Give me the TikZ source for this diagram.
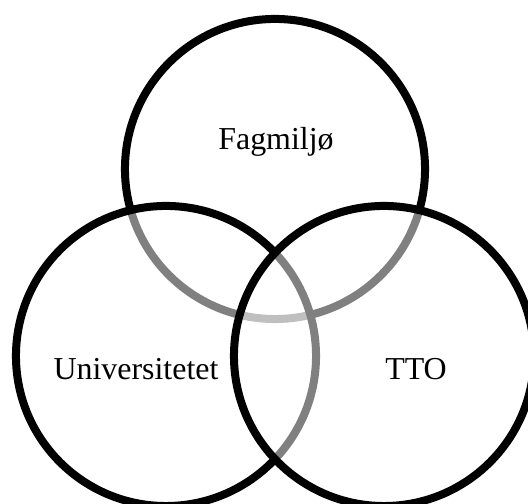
\documentclass[tikz,border=0pt]{standalone}
\usepackage{fontspec}
\setmainfont{Liberation Serif}

\begin{document}
\begin{tikzpicture}
        [x=0.025cm,y=0.025cm,
         venn/.style={draw=black,shape=circle,inner sep=0,minimum size=7.5cm,line width=0.2cm,fill=white,fill opacity=0.5,draw opacity=1},
         word/.style={anchor=base,inner sep=0,font=\fontsize{22.7}{27}\selectfont}]

        \useasboundingbox (0,0) rectangle (528,504);
        \clip (0,0) rectangle (528,504);

        \node[venn] (fag) at (275, 335) {};
        \node[venn] (uni) at (166, 148) {};
        \node[venn] (tto) at (384, 148) {};

        \node[word] (fagtext) at (276, 354) {Fagmiljø};
        \node[word] (unitext) at (136, 124) {Universitetet};
        \node[word] (ttotext) at (416, 124) {TTO};
      \end{tikzpicture}
\end{document}
